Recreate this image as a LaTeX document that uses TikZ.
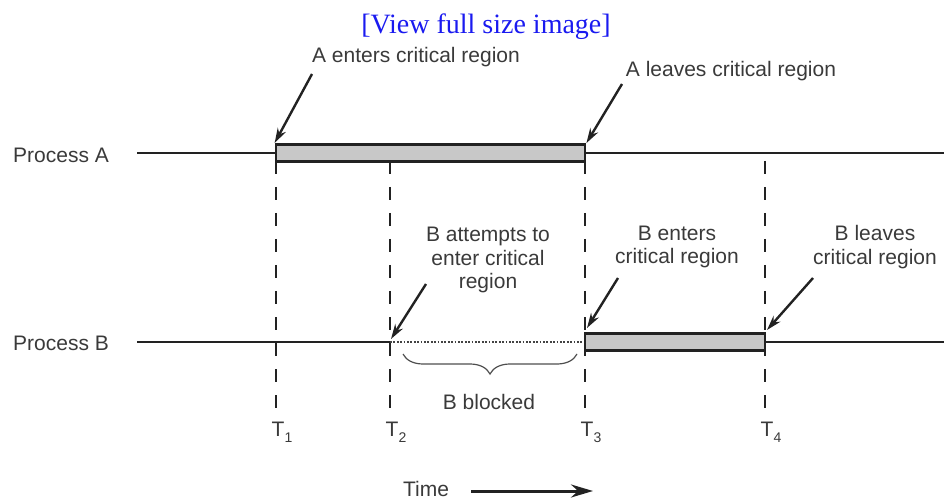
\documentclass[tikz,border=0pt]{standalone}
\usepackage{fontspec}
\setmainfont{Liberation Sans}
\newfontfamily\tmsfont{Liberation Serif}
\usetikzlibrary{arrows.meta,decorations.pathreplacing}
\definecolor{txt}{HTML}{3A3A3A}
\definecolor{ln}{HTML}{222222}
\definecolor{boxfill}{HTML}{C8C8C8}
\definecolor{linkblue}{HTML}{1A1AF0}
\begin{document}
\begin{tikzpicture}[x=1pt,y=-1pt,
  lbl/.style={font=\fontsize{21}{23.5}\selectfont, text=txt, align=center, inner sep=0pt},
  procline/.style={line width=2.6pt, draw=ln},
  crit/.style={draw=ln, line width=2.8pt, fill=boxfill, inner sep=0pt, minimum height=17pt},
  tline/.style={draw=ln, line width=2pt, dash pattern=on 13pt off 13pt},
  ptr/.style={draw=ln, line width=2.4pt, -{Stealth[length=15pt,width=9pt]}},
  tlbl/.style={font=\fontsize{21}{23}\selectfont, text=txt, inner sep=0pt}
]
\useasboundingbox (0,0) rectangle (944,502);

% title
\node (title) at (486,27) {\tmsfont\fontsize{28}{30}\selectfont\color{linkblue}[View full size image]};

% process labels
\node[lbl] (pa) at (61,155) {Process A};
\node[lbl] (pb) at (61,343) {Process B};

% line coordinates
\coordinate (a0) at (137,153);
\coordinate (a1) at (944,153);
\coordinate (b0) at (137,342);
\coordinate (bt) at (390,342);
\coordinate (b1) at (944,342);

% critical region boxes
\node[crit, minimum width=309pt] (ca) at (430.5,153) {};
\node[crit, minimum width=180pt] (cb) at (675,342) {};

% time lines
\coordinate (t1top) at (276,161); \coordinate (t1bot) at (276,408);
\coordinate (t2top) at (390,161); \coordinate (t2bot) at (390,408);
\coordinate (t3top) at (585,161); \coordinate (t3bot) at (585,408);
\coordinate (t4top) at (765,161); \coordinate (t4bot) at (765,408);
\draw[tline] (t1top) -- (t1bot);
\draw[tline] (t2top) -- (t2bot);
\draw[tline] (t3top) -- (t3bot);
\draw[tline] (t4top) -- (t4bot);

% process lines
\draw[procline] (a0) -- (ca.west);
\draw[procline] (ca.east) -- (a1);
\draw[procline] (b0) -- (bt);
\draw[draw=ln!85, line width=1.8pt, dash pattern=on 1.8pt off 1.6pt] (bt) -- (cb.west);
\draw[procline] (cb.east) -- (b1);

% redraw boxes on top
\node[crit, minimum width=309pt] at (ca) {};
\node[crit, minimum width=180pt] at (cb) {};

% labels
\node[lbl] (aen) at (416,57) {A enters critical region};
\node[lbl] (alv) at (731,71) {A leaves critical region};
\node[lbl] (bat) at (488,260) {B attempts to\\enter critical\\region};
\node[lbl] (ben) at (677,247) {B enters\\critical region};
\node[lbl] (blv) at (875,247) {B leaves\\critical region};
\node[lbl] (bbl) at (489,402) {B blocked};

% pointer arrows
\coordinate (aes) at (312,74);
\coordinate (als) at (622,84);
\coordinate (bas) at (426,284);
\coordinate (bes) at (618,278);
\coordinate (bls) at (813,278);
\coordinate (betip) at (587,328);
\coordinate (bltip) at (767,330);
\coordinate (battip) at (391,339);
\draw[ptr] (aes) -- (ca.north west);
\draw[ptr] (als) -- (ca.north east);
\draw[ptr] (bas) -- (battip);
\draw[ptr] (bes) -- (betip);
\draw[ptr] (bls) -- (bltip);

% brace
\coordinate (brl) at (403,354);
\coordinate (brr) at (577,354);
\draw[draw=ln!80, line width=1.2pt, decorate, decoration={brace, mirror, amplitude=20pt}] (brl) -- (brr);

% T labels
\node[tlbl] (T1) at (282,432) {T\raisebox{-6pt}{\fontsize{14}{14}\selectfont 1}};
\node[tlbl] (T2) at (396,432) {T\raisebox{-6pt}{\fontsize{14}{14}\selectfont 2}};
\node[tlbl] (T3) at (591,432) {T\raisebox{-6pt}{\fontsize{14}{14}\selectfont 3}};
\node[tlbl] (T4) at (771,432) {T\raisebox{-6pt}{\fontsize{14}{14}\selectfont 4}};

% time arrow
\node[lbl] (time) at (426,489) {Time};
\coordinate (tas) at (471,491);
\coordinate (tae) at (593,491);
\draw[draw=ln, line width=3pt, -{Stealth[length=22pt,width=13pt]}] (tas) -- (tae);
\end{tikzpicture}
\end{document}
